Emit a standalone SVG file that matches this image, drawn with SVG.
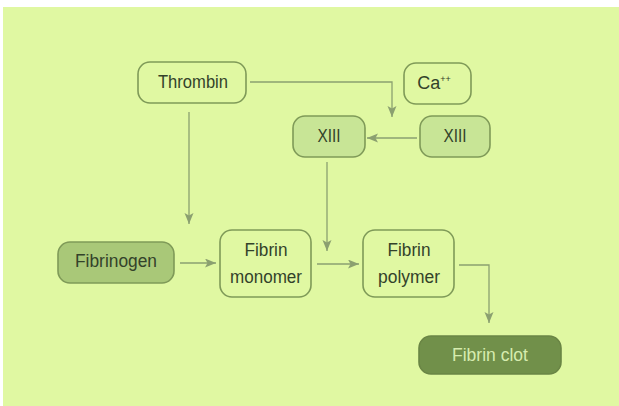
<svg xmlns="http://www.w3.org/2000/svg" width="619" height="406" viewBox="0 0 619 406">
<defs>
<style>
.box{fill:#e0f8a2;stroke:#7f9a58;stroke-width:1.6}
.mid{fill:#c8e596;stroke:#7f9a58;stroke-width:1.6}
.dark{fill:#a9c878;stroke:#7f9a58;stroke-width:1.6}
.clot{fill:#71904a;stroke:#6a8545;stroke-width:1.6}
.t{font-family:"Liberation Sans",Arial,sans-serif;font-size:18px;fill:#33422a;text-anchor:middle}
.tl{font-family:"Liberation Sans",Arial,sans-serif;font-size:18px;fill:#d6ecaf;text-anchor:middle}
.c{fill:none;stroke:#8ba070;stroke-width:1.3}
</style>
<marker id="ah" markerUnits="userSpaceOnUse" markerWidth="12" markerHeight="10" refX="11" refY="4.5" orient="auto">
<path d="M0,0 L11,4.5 L0,9 L2.5,4.5 Z" fill="#8ba070"/>
</marker>
</defs>
<rect x="0" y="0" width="619" height="406" fill="#ffffff"/>
<rect x="3" y="7" width="616" height="399" fill="#e0f8a2"/>
<g id="connectors">
<path class="c" d="M189,112 V224" marker-end="url(#ah)"/>
<path class="c" d="M250,82 H392 V117" marker-end="url(#ah)"/>
<path class="c" d="M417,138 H367" marker-end="url(#ah)"/>
<path class="c" d="M327,162 V251" marker-end="url(#ah)"/>
<path class="c" d="M180,263 H216" marker-end="url(#ah)"/>
<path class="c" d="M317,264 H359" marker-end="url(#ah)"/>
<path class="c" d="M459,265 H489 V323" marker-end="url(#ah)"/>
</g>
<g id="thrombin"><rect class="box" x="138" y="62" width="108" height="41" rx="12"/><text class="t" x="193" y="88" textLength="70" lengthAdjust="spacingAndGlyphs">Thrombin</text></g>
<g id="ca"><rect class="box" x="404" y="63" width="67" height="41" rx="12"/><text class="t" x="434" y="89">Ca<tspan font-size="9" dy="-7">++</tspan></text></g>
<g id="xiii-active"><rect class="mid" x="293" y="116" width="72" height="41" rx="12"/><text class="t" x="329" y="142" textLength="23" lengthAdjust="spacingAndGlyphs">XIII</text></g>
<g id="xiii"><rect class="mid" x="420" y="116" width="70" height="41" rx="12"/><text class="t" x="455" y="142" textLength="23" lengthAdjust="spacingAndGlyphs">XIII</text></g>
<g id="fibrinogen"><rect class="dark" x="58" y="242" width="116" height="41" rx="12"/><text class="t" x="116" y="267" textLength="82" lengthAdjust="spacingAndGlyphs">Fibrinogen</text></g>
<g id="monomer"><rect class="box" x="220" y="230" width="91" height="67" rx="12"/><text class="t" x="266" y="256" textLength="43" lengthAdjust="spacingAndGlyphs">Fibrin</text><text class="t" x="266" y="283" textLength="72" lengthAdjust="spacingAndGlyphs">monomer</text></g>
<g id="polymer"><rect class="box" x="363" y="230" width="91" height="67" rx="12"/><text class="t" x="409" y="256" textLength="43" lengthAdjust="spacingAndGlyphs">Fibrin</text><text class="t" x="409" y="283" textLength="62" lengthAdjust="spacingAndGlyphs">polymer</text></g>
<g id="clot"><rect class="clot" x="419" y="336" width="142" height="38" rx="12"/><text class="tl" x="490" y="361" textLength="76" lengthAdjust="spacingAndGlyphs">Fibrin clot</text></g>
</svg>
